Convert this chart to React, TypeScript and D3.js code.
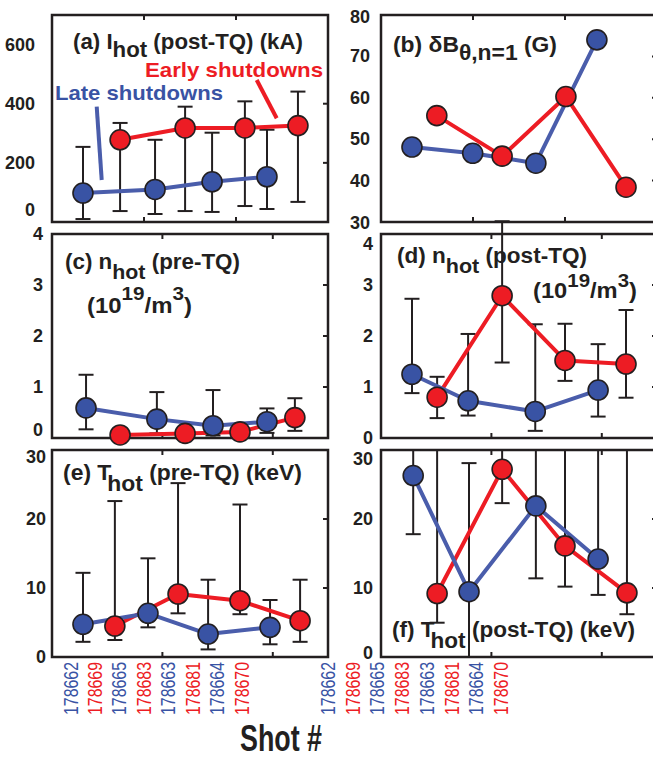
import React from 'react';
import * as d3 from 'd3';

// ---------- data ----------
const shots = ['178662', '178669', '178665', '178683', '178663', '178681', '178664', '178670'];
const shotGroup = ['late', 'early', 'late', 'early', 'late', 'early', 'late', 'early'];

// (a) I_hot post-TQ (kA)
const aPos = [1.01, 2.22, 3.36, 4.34, 5.22, 6.29, 7.01, 8.02];
const aVals = [98, 278, 110, 318, 136, 318, 153, 326];
const aLow = [10, 37, 27, 37, 34, 54, 44, 68];
const aHigh = [254, 335, 278, 390, 302, 408, 312, 441];
const aTicks = [0, 200, 400, 600];

// (b) dB_theta,n=1 (G)
const bPos = [1.01, 1.82, 2.99, 3.95, 5.05, 6.03, 7.04, 7.99];
const bVals = [48.1, 55.7, 46.6, 45.9, 44.2, 60.3, 74.0, 38.4];
const bTicks = [30, 40, 50, 60, 70, 80];

// (c) n_hot pre-TQ (1e19/m3)
const cPos = [1.11, 2.22, 3.42, 4.34, 5.25, 6.13, 7.01, 7.92];
const cVals = [0.59, 0.06, 0.37, 0.09, 0.24, 0.12, 0.32, 0.4];
const cLow = [0.17, null, 0.09, null, 0.05, null, 0.1, 0.14];
const cHigh = [1.24, null, 0.9, null, 0.94, null, 0.58, 0.78];
const cTicks = [0, 1, 2, 3, 4];

// (d) n_hot post-TQ (1e19/m3)
const dPos = [1.01, 1.83, 2.84, 3.95, 5.03, 6.0, 7.08, 7.99];
const dVals = [1.25, 0.8, 0.73, 2.79, 0.52, 1.52, 0.94, 1.45];
const dLow = [0.88, 0.39, 0.44, 1.48, 0.14, 1.12, 0.42, 0.79];
const dHigh = [2.73, 1.2, 2.04, 4.25, 2.23, 2.24, 1.84, 2.51];
const dTicks = [0, 1, 2, 3, 4];

// (e) T_hot pre-TQ (keV)
const ePos = [1.01, 2.05, 3.13, 4.11, 5.09, 6.13, 7.11, 8.09];
const eVals = [4.74, 4.49, 6.33, 9.13, 3.33, 8.16, 4.3, 5.26];
const eLow = [2.2, 2.46, 4.3, 6.33, 1.1, 6.2, 1.84, 2.2];
const eHigh = [12.2, 22.6, 14.3, 25.2, 11.2, 22.1, 8.26, 11.2];
const eTicks = [0, 10, 20, 30];

// (f) T_hot post-TQ (keV)
const fPos = [1.05, 1.83, 2.87, 3.95, 5.05, 6.0, 7.08, 8.02];
const fVals = [26.3, 9.2, 9.46, 27.2, 21.9, 16.1, 14.2, 9.3];
const fLow = [17.8, 4.97, 0, 22.3, 11.4, 10.2, 9.0, 6.2];
const fHigh = [30, 30, 28.1, 30, 30, 30, 30, 30];
const fTicks = [0, 10, 20, 30];

const xTicksTop = [3, 6];
const xTicksLower = [3.6, 7.2];

// ---------- style ----------
const FONT = "'Liberation Sans', Arial, Helvetica, sans-serif";
const INK = '#231f20';
const BLUE = '#3953a4';
const BLUE_LINE = '#4a5dab';
const RED = '#ed1c24';

type Box = { x0: number; x1: number; y0: number; y1: number };

function Panel(props: {
  box: Box;
  yDomain: [number, number];
  yTicks: number[];
  xTicks: number[];
  labelRight: number;
  shiftMin?: number;
  shiftMax?: number;
  pos: number[];
  vals: number[];
  low?: (number | null)[];
  high?: (number | null)[];
}) {
  const { box, yDomain, yTicks, xTicks, labelRight, pos, vals, low, high } = props;
  const x = d3.scaleLinear().domain([0, 9]).range([box.x0, box.x1]);
  const y = d3.scaleLinear().domain(yDomain).range([box.y1, box.y0]);
  const pts = shots.map((s, i) => ({
    i,
    g: shotGroup[i],
    cx: x(pos[i]),
    cy: y(vals[i]),
    lo: low ? low[i] : null,
    hi: high ? high[i] : null,
  }));
  const line = d3
    .line<any>()
    .x((d) => d.cx)
    .y((d) => d.cy);
  const blue = pts.filter((p) => p.g === 'late');
  const red = pts.filter((p) => p.g === 'early');
  const minT = d3.min(yTicks) as number;
  const maxT = d3.max(yTicks) as number;
  return (
    <g>
      <rect
        x={box.x0}
        y={box.y0}
        width={box.x1 - box.x0}
        height={box.y1 - box.y0}
        fill="none"
        stroke={INK}
        strokeWidth={2.5}
      />
      {xTicks.map((t) => (
        <g key={'xt' + t}>
          <line x1={x(t)} x2={x(t)} y1={box.y0} y2={box.y0 + 5} stroke={INK} strokeWidth={2} />
          <line x1={x(t)} x2={x(t)} y1={box.y1} y2={box.y1 - 5} stroke={INK} strokeWidth={2} />
        </g>
      ))}
      {yTicks
        .filter((t) => t !== minT && t !== maxT)
        .map((t) => (
          <line key={'yt' + t} x1={box.x1 - 5} x2={box.x1} y1={y(t)} y2={y(t)} stroke={INK} strokeWidth={2} />
        ))}
      {yTicks.map((t) => {
        let dy = 0;
        if (t === minT && props.shiftMin) dy = props.shiftMin;
        if (t === maxT && props.shiftMax) dy = props.shiftMax;
        return (
          <text
            key={'yl' + t}
            x={labelRight}
            y={y(t) + dy}
            textAnchor="end"
            dominantBaseline="central"
            fontFamily={FONT}
            fontWeight="bold"
            fontSize={18}
            fill={INK}
          >
            {t}
          </text>
        );
      })}
      {pts
        .filter((p) => p.lo != null && p.hi != null)
        .map((p) => (
          <g key={'eb' + p.i} stroke={INK} strokeWidth={2}>
            <line x1={p.cx} x2={p.cx} y1={y(p.lo as number)} y2={y(p.hi as number)} />
            <line x1={p.cx - 7.5} x2={p.cx + 7.5} y1={y(p.lo as number)} y2={y(p.lo as number)} />
            <line x1={p.cx - 7.5} x2={p.cx + 7.5} y1={y(p.hi as number)} y2={y(p.hi as number)} />
          </g>
        ))}
      <path d={line(red) || ''} fill="none" stroke={RED} strokeWidth={4} strokeLinejoin="round" />
      <path d={line(blue) || ''} fill="none" stroke={BLUE_LINE} strokeWidth={4} strokeLinejoin="round" />
      {pts.map((p) => (
        <circle
          key={'c' + p.i}
          cx={p.cx}
          cy={p.cy}
          r={10}
          fill={p.g === 'late' ? BLUE : RED}
          stroke={INK}
          strokeWidth={1.6}
        />
      ))}
    </g>
  );
}

// A title line made of plain and shifted (sub/super) parts, fitted to [x0, x1]
type Part = { t: string; dy?: number; dx?: number; fs?: number };
function Title(props: { x0: number; x1: number; y: number; parts: Part[]; fs?: number; fill?: string }) {
  let cur = 0;
  return (
    <text
      x={props.x0}
      y={props.y}
      textLength={props.x1 - props.x0}
      lengthAdjust="spacingAndGlyphs"
      fontFamily={FONT}
      fontWeight="bold"
      fontSize={props.fs || 22}
      fill={props.fill || INK}
    >
      {props.parts.map((p, i) => {
        const target = p.dy || 0;
        const d = target - cur;
        cur = target;
        return (
          <tspan key={i} dy={d} dx={p.dx} fontSize={p.fs}>
            {p.t}
          </tspan>
        );
      })}
    </text>
  );
}

export default function App() {
  const leftX = { x0: 52, x1: 328 };
  const rightX = { x0: 381, x1: 657 };
  const row1 = { y0: 15, y1: 222 };
  const row2 = { y0: 234, y1: 438 };
  const row3 = { y0: 450, y1: 657 };

  const shotLeft = d3.scalePoint<string>().domain(shots).range([70, 241]);
  const shotRight = d3.scalePoint<string>().domain(shots).range([327.5, 500.5]);

  return (
    <svg
      width={653}
      height={759}
      style={{ position: 'absolute', left: 0, top: 0, background: '#fff' }}
    >
      <rect x={0} y={0} width={653} height={759} fill="#fff" />
      <Panel box={{ ...leftX, ...row1 }} yDomain={[0, 700]} yTicks={aTicks} xTicks={xTicksTop} labelRight={35} shiftMin={-12}
        pos={aPos} vals={aVals} low={aLow} high={aHigh} />
      <Panel box={{ ...rightX, ...row1 }} yDomain={[30, 80]} yTicks={bTicks} xTicks={xTicksTop} labelRight={370} shiftMin={1} shiftMax={2}
        pos={bPos} vals={bVals} />
      <Panel box={{ ...leftX, ...row2 }} yDomain={[0, 4]} yTicks={cTicks} xTicks={xTicksLower} labelRight={43} shiftMin={-8}
        pos={cPos} vals={cVals} low={cLow} high={cHigh} />
      <Panel box={{ ...rightX, ...row2 }} yDomain={[0, 4]} yTicks={dTicks} xTicks={xTicksLower} labelRight={373} shiftMax={9.5}
        pos={dPos} vals={dVals} low={dLow} high={dHigh} />
      <Panel box={{ ...leftX, ...row3 }} yDomain={[0, 30]} yTicks={eTicks} xTicks={xTicksLower} labelRight={46} shiftMax={7}
        pos={ePos} vals={eVals} low={eLow} high={eHigh} />
      <Panel box={{ ...rightX, ...row3 }} yDomain={[0, 30]} yTicks={fTicks} xTicks={xTicksLower} labelRight={373} shiftMax={9} shiftMin={-4}
        pos={fPos} vals={fVals} low={fLow} high={fHigh} />

      {/* (a) */}
      <Title x0={73} x1={303} y={49} parts={[{ t: '(a) I' }, { t: 'hot', dy: 8 }, { t: ' (post-TQ) (kA)' }]} />
      <Title x0={145} x1={323} y={77} fs={21} fill={RED} parts={[{ t: 'Early shutdowns' }]} />
      <Title x0={55} x1={223} y={100} fs={21} fill={BLUE} parts={[{ t: 'Late shutdowns' }]} />
      <line x1={256.7} y1={80} x2={276.7} y2={118.3} stroke={RED} strokeWidth={4} />
      <line x1={96.7} y1={106.7} x2={101.7} y2={180} stroke={BLUE_LINE} strokeWidth={4} />

      {/* (b) */}
      <Title x0={393} x1={557} y={52} parts={[{ t: '(b) δB' }, { t: 'θ,n=1', dy: 8 }, { t: ' (G)' }]} />

      {/* (c) */}
      <Title x0={65} x1={240} y={269} parts={[{ t: '(c) n' }, { t: 'hot', dy: 10, fs: 21 }, { t: ' (pre-TQ)' }]} />
      <Title x0={87} x1={192} y={313} parts={[{ t: '(10' }, { t: '19', dy: -13, fs: 19 }, { t: '/m' }, { t: '3', dy: -13, fs: 19 }, { t: ')' }]} />

      {/* (d) */}
      <Title x0={397} x1={587} y={263} parts={[{ t: '(d) n' }, { t: 'hot', dy: 10, fs: 21 }, { t: ' (post-TQ)' }]} />
      <Title x0={533} x1={637} y={298} parts={[{ t: '(10' }, { t: '19', dy: -11, fs: 19 }, { t: '/m' }, { t: '3', dy: -11, fs: 19 }, { t: ')' }]} />

      {/* (e) */}
      <Title x0={63} x1={302} y={480} parts={[{ t: '(e) T' }, { t: 'hot', dy: 11, dx: -4 }, { t: ' (pre-TQ) (keV)' }]} />

      {/* (f) */}
      <Title x0={392} x1={635} y={637} parts={[{ t: '(f) T' }, { t: 'hot', dy: 11, dx: -4 }, { t: ' (post-TQ) (keV)' }]} />

      {/* shot labels */}
      {[shotLeft, shotRight].map((sc, k) =>
        shots.map((s, i) => {
          const cx = (sc(s) as number) + 7.5;
          return (
            <text
              key={k + s}
              x={0}
              y={0}
              transform={`translate(${cx},715) rotate(-90) scale(0.757,1)`}
              fontFamily={FONT}
              fontSize={21}
              fill={shotGroup[i] === 'late' ? BLUE : RED}
            >
              {s}
            </text>
          );
        })
      )}

      <text
        x={240}
        y={751}
        textLength={82}
        lengthAdjust="spacingAndGlyphs"
        fontFamily={FONT}
        fontWeight="bold"
        fontSize={37}
        fill={INK}
      >
        Shot #
      </text>
    </svg>
  );
}
